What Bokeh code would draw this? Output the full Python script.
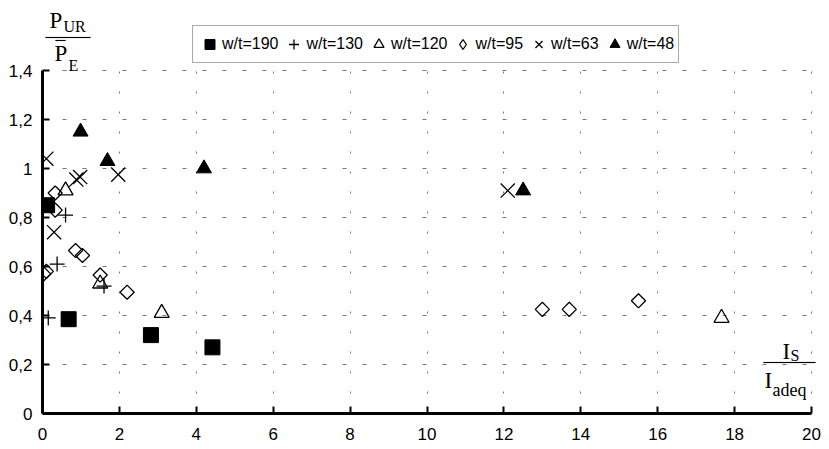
from bokeh.plotting import figure
from bokeh.models import (Range1d, FixedTicker, CustomJSTickFormatter, Legend, LegendItem,
                          Label, BoxAnnotation)
from bokeh.embed import file_html
from bokeh.resources import INLINE

# ---- data ----
x_190 = [0.12, 0.68, 2.82, 4.42]
y_190 = [0.85, 0.385, 0.32, 0.27]

x_130 = [0.15, 0.38, 0.6, 1.6]
y_130 = [0.39, 0.61, 0.81, 0.52]

x_120 = [0.6, 1.5, 3.1, 17.66]
y_120 = [0.91, 0.53, 0.41, 0.39]

x_95 = [0.33, 0.33, 0.86, 1.04, 1.5, 2.2, 0.03, 0.1, 13.0, 13.7, 15.5]
y_95 = [0.90, 0.83, 0.665, 0.645, 0.565, 0.495, 0.57, 0.58, 0.425, 0.425, 0.46]

x_63 = [0.1, 0.88, 0.98, 1.97, 0.3, 12.1]
y_63 = [1.04, 0.955, 0.965, 0.975, 0.74, 0.91]

x_48 = [0.99, 1.69, 4.2, 12.5]
y_48 = [1.15, 1.03, 1.0, 0.91]

legend_labels = ["w/t=190", "w/t=130", "w/t=120", "w/t=95", "w/t=63", "w/t=48"]
x_ticks = [0, 2, 4, 6, 8, 10, 12, 14, 16, 18, 20]
y_ticks = [0, 0.2, 0.4, 0.6, 0.8, 1.0, 1.2, 1.4]
x_min, x_max = 0, 20
y_min, y_max = 0, 1.4

# frame: data area 0..20 -> px 42..811, 0..1.4 -> px 413..70; frame extended to canvas edges
W, H = 829, 449
left_px, right_px, top_px, bottom_px = 42, 811, 70, 413
x_end = x_max + (W - right_px) * (x_max - x_min) / (right_px - left_px)
y_end = y_max + top_px * (y_max - y_min) / (bottom_px - top_px)

p = figure(width=W, height=H, output_backend="svg", toolbar_location=None,
           x_range=Range1d(x_min, x_end), y_range=Range1d(y_min, y_end),
           min_border_left=left_px, min_border_right=0, min_border_top=0,
           min_border_bottom=H - bottom_px)
p.outline_line_color = None
p.background_fill_color = "white"

for ax in (p.xaxis[0], p.yaxis[0]):
    ax.axis_line_width = 3
    ax.axis_line_color = "black"
    ax.major_tick_in = 7
    ax.major_tick_out = 0
    ax.major_tick_line_width = 2
    ax.minor_tick_line_color = None
    ax.major_label_text_font = "Liberation Sans"
    ax.major_label_text_color = "black"

p.xaxis[0].bounds = (x_min, x_max)
p.yaxis[0].bounds = (y_min, y_max)
p.xaxis[0].ticker = FixedTicker(ticks=x_ticks)
p.yaxis[0].ticker = FixedTicker(ticks=y_ticks)
p.xaxis[0].major_label_text_font_size = "17px"
p.yaxis[0].major_label_text_font_size = "17px"
p.xaxis[0].major_label_standoff = 14
p.yaxis[0].major_label_standoff = 10
p.yaxis[0].formatter = CustomJSTickFormatter(
    code="return (Math.round(tick*10)/10).toString().replace('.', ',');")

p.xgrid.grid_line_color = "#777777"
p.xgrid.grid_line_dash = "2 18"
p.xgrid.grid_line_width = 1
p.xgrid.cross_bounds = (y_min, y_max)
p.ygrid.grid_line_color = "#777777"
p.ygrid.grid_line_dash = "4 16"
p.ygrid.grid_line_width = 1
p.ygrid.cross_bounds = (x_min, x_max)

lw = 1.3
r190 = p.scatter(x_190, y_190, marker="square", size=15, fill_color="black", line_color="black")
r130 = p.scatter(x_130, y_130, marker="cross", size=15, line_color="black", line_width=lw)
r120 = p.scatter(x_120, y_120, marker="triangle", size=15, fill_color=None, line_color="black", line_width=lw)
r95 = p.scatter(x_95, y_95, marker="square", angle=0.785398, size=10, fill_color=None, line_color="black", line_width=lw)
r63 = p.scatter(x_63, y_63, marker="x", size=20, line_color="black", line_width=lw)
r48 = p.scatter(x_48, y_48, marker="triangle", size=15, fill_color="black", line_color="black")
# legend-only key for the diamond series (the legend ignores marker angle); NaN => nothing drawn in plot
nan = float("nan")
r95_key = p.scatter(x=[nan], y=[nan], marker="diamond", size=10, fill_color=None,
                    line_color="black", line_width=lw)

items = [LegendItem(label=l, renderers=[r]) for l, r in
         zip(legend_labels, [r190, r130, r120, r95_key, r63, r48])]
legend = Legend(items=items, orientation="horizontal", location=(150, 350),
                label_text_font="Liberation Sans", label_text_font_size="16px",
                label_text_color="black",
                glyph_width=25, glyph_height=28, label_standoff=0, spacing=3,
                padding=4, margin=0,
                border_line_color="#555555", border_line_width=1,
                background_fill_alpha=1.0)
p.add_layout(legend)

serif = "Liberation Serif"
def lab(text, x, y, size):
    p.add_layout(Label(text=text, x=x, y=y, x_units="screen", y_units="screen",
                       text_font=serif, text_font_size=size, text_color="black",
                       text_align="left", text_baseline="alphabetic"))

def hline(x0, x1, y):
    p.add_layout(BoxAnnotation(left=x0, right=x1, bottom=y - 0.5, top=y + 0.5,
                               left_units="screen", right_units="screen",
                               bottom_units="screen", top_units="screen",
                               fill_color="black", fill_alpha=1.0, line_color="black",
                               line_width=0.5, level="overlay"))

# y-axis label: P_UR / P̄_E
lab("P", 7, 393, "23px")
lab("UR", 21, 387, "16px")
hline(3, 48, 376)
hline(13, 23, 373)
lab("P", 12, 360, "23px")
lab("E", 26, 348, "16px")

# x-axis label: I_S / I_adeq
lab("I", 740, 62, "23px")
lab("S", 748, 58, "16px")
hline(721, 773, 51)
lab("I", 722, 33, "23px")
lab("adeq", 730, 24, "18px")

open("out.html", "w").write(file_html(p, INLINE))
